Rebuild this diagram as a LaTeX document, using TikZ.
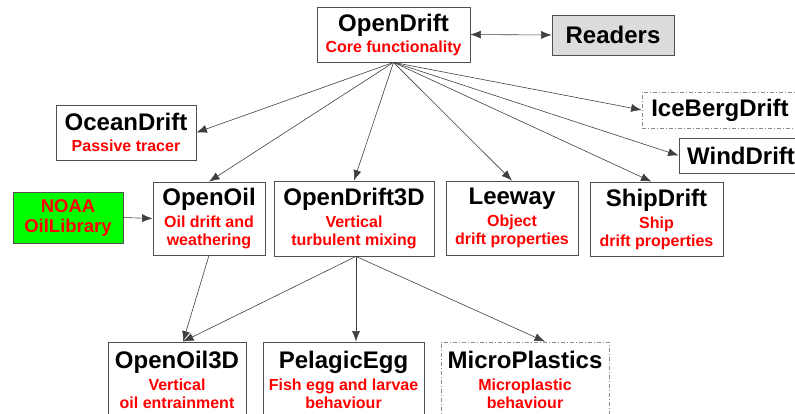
\documentclass[tikz,border=0pt]{standalone}
\usepackage{fontspec}
\setmainfont{Liberation Sans}
\usetikzlibrary{arrows.meta,calc}
\definecolor{boxgray}{HTML}{505050}
\definecolor{dashgray}{HTML}{8A8A8A}
\definecolor{readgray}{HTML}{DCDCDC}
\definecolor{noagreen}{HTML}{00FF00}
\definecolor{subred}{HTML}{FF0000}
\newcommand\ndttl[1]{{\fontsize{24}{27}\selectfont\bfseries\color{black}#1}}
\tikzset{
  modbox/.style={draw=boxgray, line width=0.8pt, fill=white, align=center, inner sep=0pt,
    font=\fontsize{16}{18}\selectfont\bfseries, text=subred},
  dashbox/.style={modbox, draw=dashgray, dash pattern=on 4pt off 2pt on 1pt off 2pt},
  conn/.style={draw=black!75, line width=0.6pt, -{Latex[length=10.5pt,width=8pt]}},
}
\begin{document}
\begin{tikzpicture}[x=1pt,y=-1pt]
\useasboundingbox (0,0) rectangle (795,413);
\clip (0,0) rectangle (795,413);
% nodes
\node[modbox, minimum width=153pt, minimum height=55pt] (od) at (393.5,34.5) {\ndttl{OpenDrift}\\[3pt]Core functionality};
\node[modbox, fill=readgray, minimum width=122pt, minimum height=40pt] (rd) at (613,35) {\ndttl{Readers}};
\node[modbox, minimum width=140pt, minimum height=55pt] (ocean) at (126,132.5) {\ndttl{OceanDrift}\\[3pt]Passive tracer};
\node[dashbox, minimum width=156pt, minimum height=36pt] (ice) at (720,110) {\ndttl{IceBergDrift}};
\node[modbox, minimum width=124pt, minimum height=35pt] (wind) at (741,155.5) {\ndttl{WindDrift}};
\node[modbox, fill=noagreen, minimum width=110pt, minimum height=51pt,
      font=\fontsize{18.5}{20}\selectfont\bfseries] (noaa) at (68,217.5) {NOAA\\OilLibrary};
\node[modbox, minimum width=112pt, minimum height=73pt] (oo) at (209,218.5) {\ndttl{OpenOil}\\[4pt]Oil drift and\\weathering};
\node[modbox, minimum width=160pt, minimum height=75pt] (od3) at (354,218.5) {\ndttl{OpenDrift3D}\\[4pt]Vertical\\turbulent mixing};
\node[modbox, minimum width=132pt, minimum height=74pt] (lw) at (512,218) {\ndttl{Leeway}\\[4pt]Object\\drift properties};
\node[modbox, minimum width=133pt, minimum height=74pt] (sd) at (656.5,219) {\ndttl{ShipDrift}\\[4pt]Ship\\drift properties};
\node[modbox, minimum width=138pt, minimum height=76pt] (oo3) at (177,380) {\ndttl{OpenOil3D}\\[4pt]Vertical\\oil entrainment};
\node[modbox, minimum width=161pt, minimum height=76pt] (pe) at (343.5,380) {\ndttl{PelagicEgg}\\[4pt]Fish egg and larvae\\behaviour};
\node[dashbox, minimum width=168pt, minimum height=76pt] (mp) at (525,380) {\ndttl{MicroPlastics}\\[4pt]Microplastic\\behaviour};
% connectors
\draw[conn, {Latex[length=10.5pt,width=8pt]}-{Latex[length=10.5pt,width=8pt]}] (od.east) -- (rd.west);
\draw[conn] (od.south) -- (ocean.east);
\draw[conn] (od.south) -- (oo.north);
\draw[conn] (od.south) -- (od3.north);
\draw[conn] (od.south) -- (lw.north);
\draw[conn] (od.south) -- ($(sd.north)+(-5,0)$);
\draw[conn] (od.south) -- (ice.west);
\draw[conn] (od.south) -- (wind.west);
\draw[conn] (noaa.east) -- (oo.west);
\coordinate (oo3in) at ($(oo3.north)+(6,0)$);
\draw[conn] (oo.south) -- (oo3in);
\coordinate (od3out) at ($(od3.south)+(2,0)$);
\draw[conn] (od3out) -- (oo3in);
\draw[conn] (od3out) -- (od3out |- pe.north);
\draw[conn] (od3out) -- ($(mp.north)+(20,0)$);
\end{tikzpicture}
\end{document}
